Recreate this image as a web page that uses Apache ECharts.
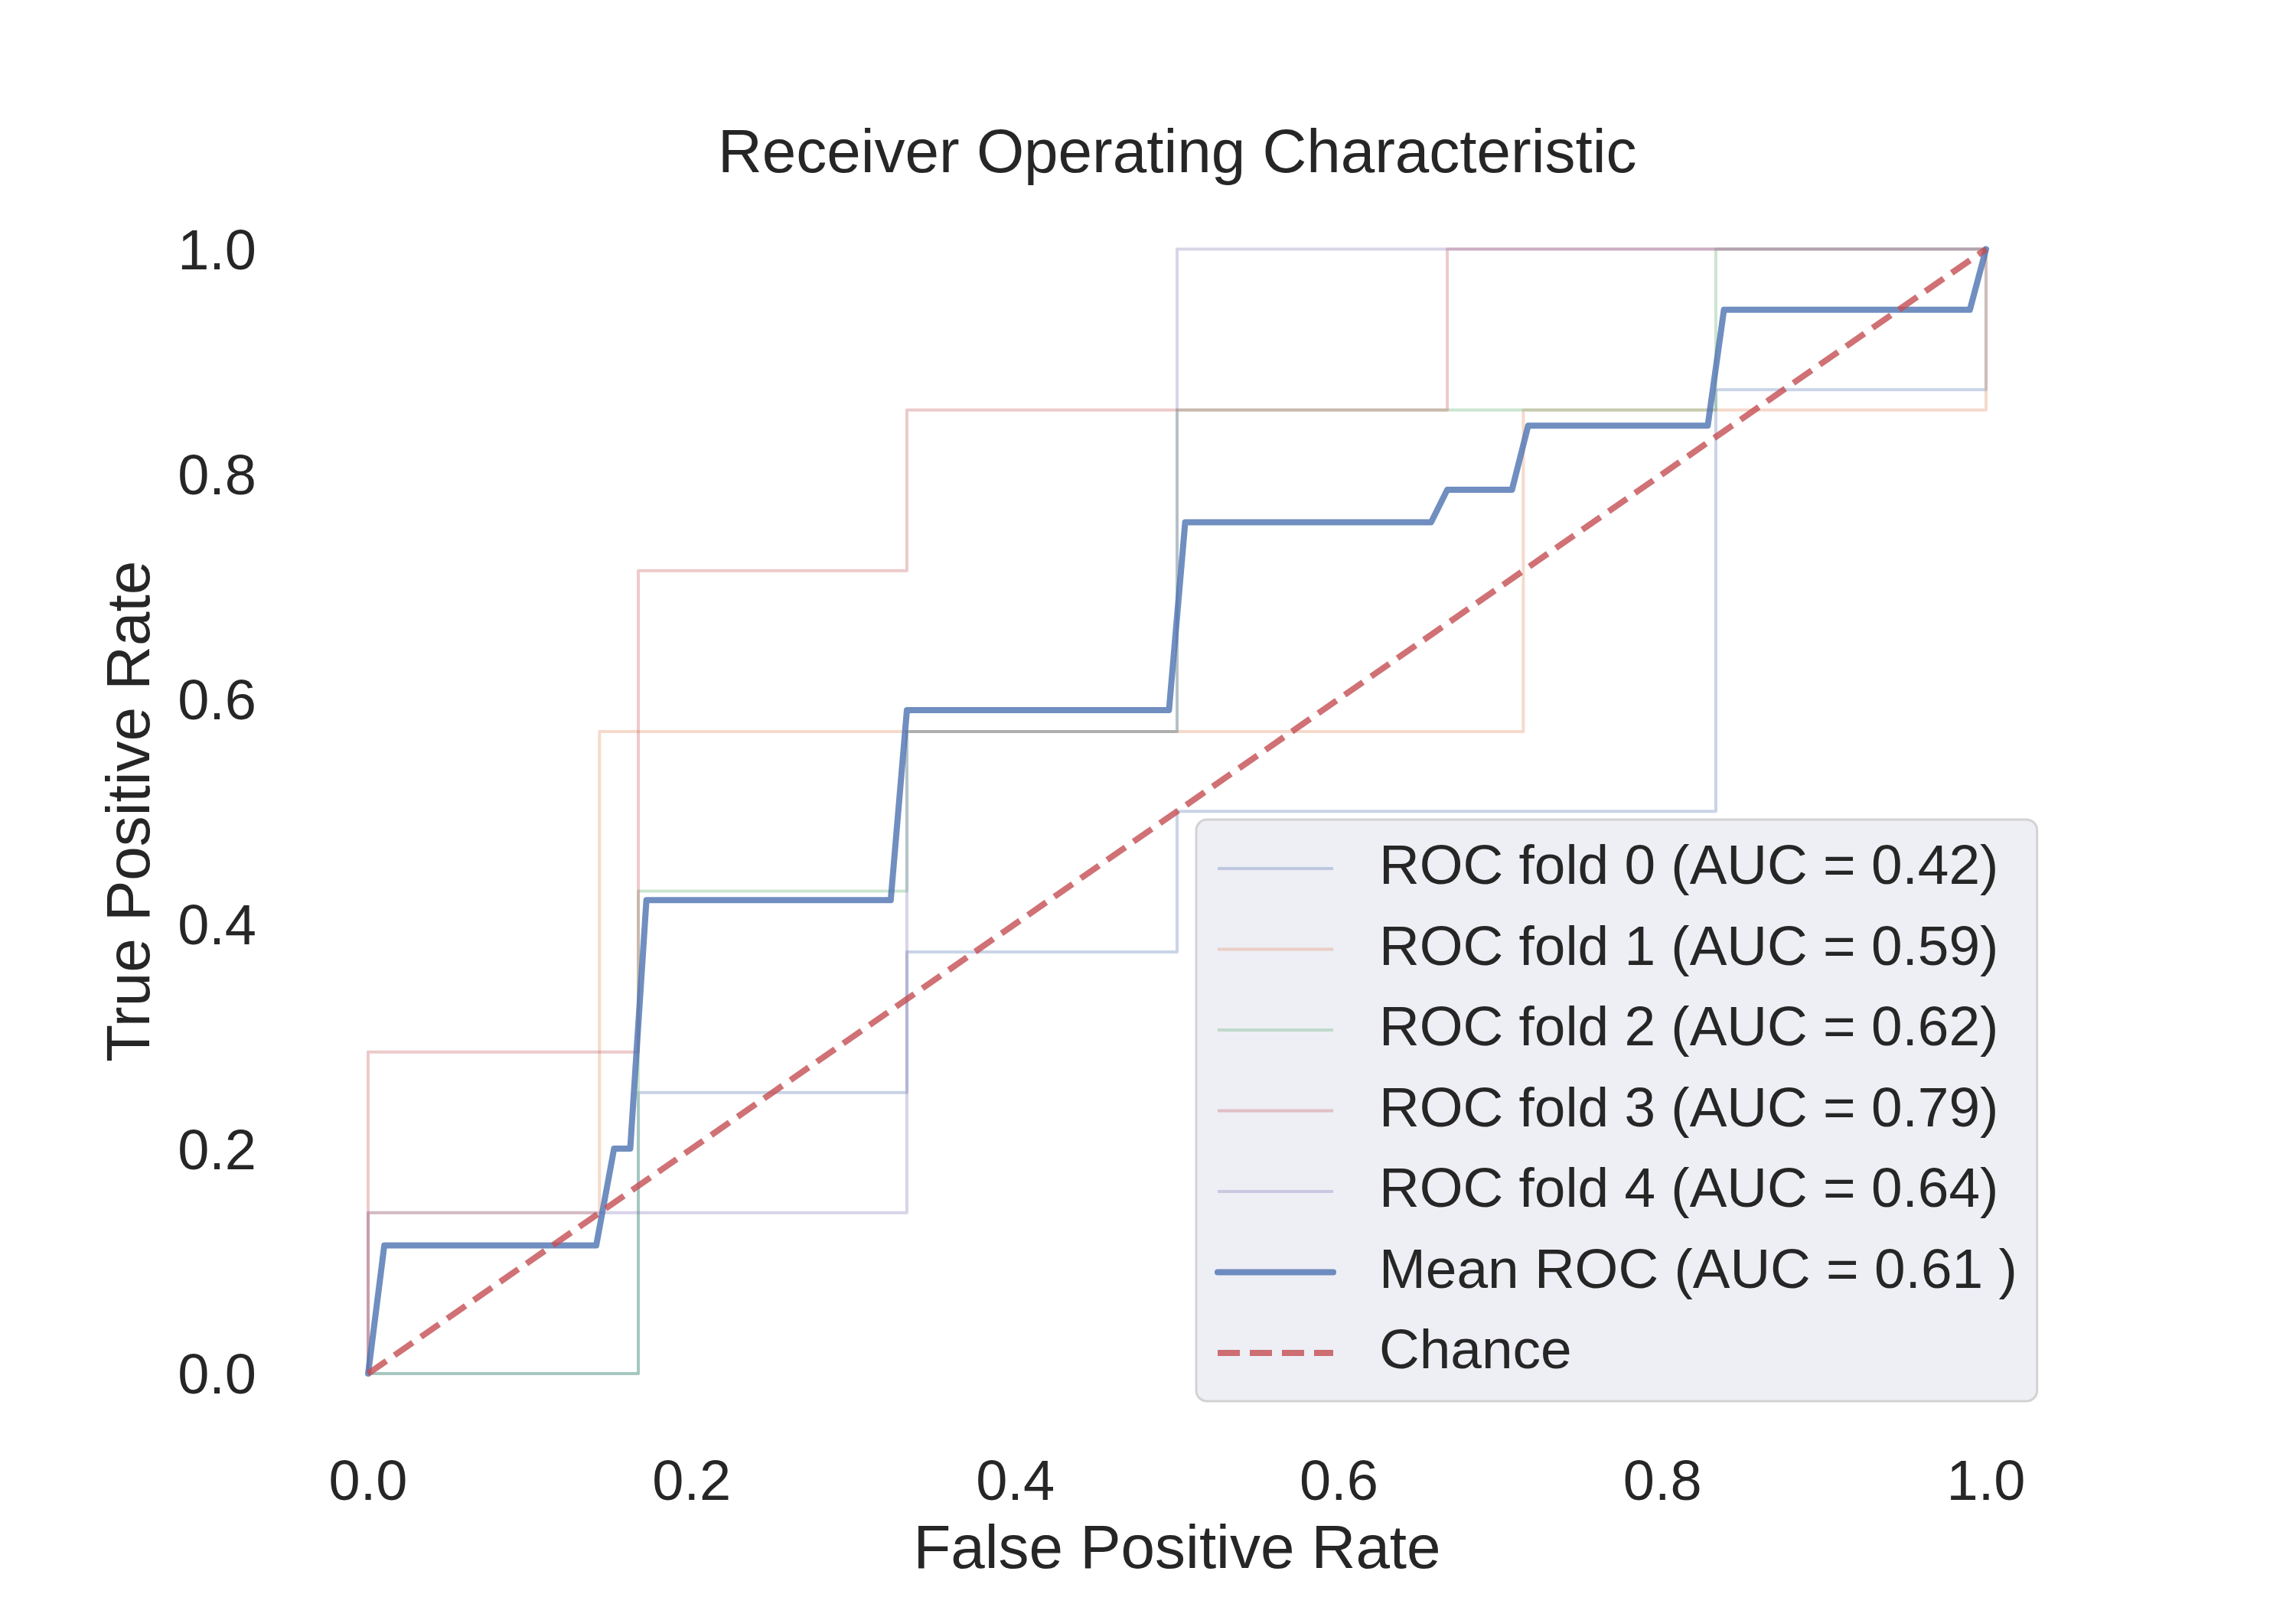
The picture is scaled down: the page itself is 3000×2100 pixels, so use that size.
<!DOCTYPE html>
<html>
<head>
<meta charset="utf-8">
<script src="https://cdn.jsdelivr.net/npm/echarts@6/dist/echarts.min.js"></script>
<style>
html,body{margin:0;padding:0;background:#fff;}
#chart{width:3000px;height:2100px;}
</style>
</head>
<body>
<div id="chart"></div>
<script>
// ---- data ----
const xTicks = [0.0, 0.2, 0.4, 0.6, 0.8, 1.0];
const yTicks = [0.0, 0.2, 0.4, 0.6, 0.8, 1.0];

const foldNames = [
  'ROC fold 0 (AUC = 0.42)',
  'ROC fold 1 (AUC = 0.59)',
  'ROC fold 2 (AUC = 0.62)',
  'ROC fold 3 (AUC = 0.79)',
  'ROC fold 4 (AUC = 0.64)'
];
const meanName = 'Mean ROC (AUC = 0.61 )';
const chanceName = 'Chance';

const fold0Fpr = [0, 0.167, 0.167, 0.333, 0.333, 0.5, 0.5, 0.833, 0.833, 1.0, 1.0];
const fold0Tpr = [0, 0, 0.25, 0.25, 0.375, 0.375, 0.5, 0.5, 0.875, 0.875, 1.0];

const fold1Fpr = [0, 0, 0.143, 0.143, 0.714, 0.714, 1.0, 1.0];
const fold1Tpr = [0, 0.143, 0.143, 0.571, 0.571, 0.857, 0.857, 1.0];

const fold2Fpr = [0, 0.167, 0.167, 0.333, 0.333, 0.5, 0.5, 0.833, 0.833, 1.0];
const fold2Tpr = [0, 0, 0.429, 0.429, 0.571, 0.571, 0.857, 0.857, 1.0, 1.0];

const fold3Fpr = [0, 0, 0.167, 0.167, 0.333, 0.333, 0.667, 0.667, 1.0];
const fold3Tpr = [0, 0.286, 0.286, 0.714, 0.714, 0.857, 0.857, 1.0, 1.0];

const fold4Fpr = [0, 0, 0.333, 0.333, 0.5, 0.5, 1.0];
const fold4Tpr = [0, 0.143, 0.143, 0.571, 0.571, 1.0, 1.0];

const meanFpr = [0, 0.010, 0.141, 0.152, 0.162, 0.172, 0.323, 0.333, 0.495, 0.505, 0.657, 0.667, 0.707, 0.717, 0.828, 0.838, 0.990, 1.0];
const meanTpr = [0, 0.114, 0.114, 0.200, 0.200, 0.421, 0.421, 0.590, 0.590, 0.757, 0.757, 0.786, 0.786, 0.843, 0.843, 0.946, 0.946, 1.0];

const chanceX = [0, 1];
const chanceY = [0, 1];

// ---- styling ----
const foldColors = ['#4C72B0', '#DD8452', '#55A868', '#C44E52', '#8172B3'];
const FONT = '"Liberation Sans", Arial, "DejaVu Sans", sans-serif';
const TXT = '#262626';

function pairs(xs, ys) { return xs.map((x, i) => [x, ys[i]]); }

const foldX = [fold0Fpr, fold1Fpr, fold2Fpr, fold3Fpr, fold4Fpr];
const foldY = [fold0Tpr, fold1Tpr, fold2Tpr, fold3Tpr, fold4Tpr];

const series = foldNames.map((name, i) => ({
  name: name,
  type: 'line',
  data: pairs(foldX[i], foldY[i]),
  symbol: 'none',
  clip: false,
  z: 2,
  lineStyle: { color: foldColors[i], width: 4, opacity: 0.3, join: 'round' },
  itemStyle: { color: foldColors[i], opacity: 0.3 }
}));

series.push({
  name: meanName,
  type: 'line',
  data: pairs(meanFpr, meanTpr),
  symbol: 'none',
  clip: false,
  z: 3,
  lineStyle: { color: '#4C72B0', width: 8, opacity: 0.8, join: 'round', cap: 'round' },
  itemStyle: { color: '#4C72B0', opacity: 0.8 }
});

series.push({
  name: chanceName,
  type: 'line',
  data: pairs(chanceX, chanceY),
  symbol: 'none',
  clip: false,
  z: 4,
  lineStyle: { color: '#C44E52', width: 8, opacity: 0.8, type: [29, 13], cap: 'butt' },
  itemStyle: { color: '#C44E52', opacity: 0.8 }
});

const chart = echarts.init(document.getElementById('chart'), null, { renderer: 'canvas' });
chart.setOption({
  animation: false,
  backgroundColor: '#ffffff',
  textStyle: { fontFamily: FONT, color: TXT },
  title: {
    text: 'Receiver Operating Characteristic',
    left: 933,
    top: 158,
    textStyle: { fontFamily: FONT, fontSize: 80, fontWeight: 'normal', color: TXT }
  },
  grid: { left: 481, right: 405, top: 325.5, bottom: 305, containLabel: false },
  xAxis: {
    type: 'value',
    min: 0, max: 1, interval: 0.2,
    name: 'False Positive Rate',
    nameLocation: 'middle',
    nameGap: 192,
    nameTextStyle: { fontFamily: FONT, fontSize: 80, color: TXT },
    axisLine: { show: false },
    axisTick: { show: false },
    splitLine: { show: false },
    axisLabel: {
      fontFamily: FONT, fontSize: 74, color: TXT, margin: 108,
      formatter: v => v.toFixed(1)
    }
  },
  yAxis: {
    type: 'value',
    min: 0, max: 1, interval: 0.2,
    name: 'True Positive Rate',
    nameLocation: 'middle',
    nameGap: 268,
    nameTextStyle: { fontFamily: FONT, fontSize: 80, color: TXT },
    axisLine: { show: false },
    axisTick: { show: false },
    splitLine: { show: false },
    axisLabel: {
      fontFamily: FONT, fontSize: 74, color: TXT, margin: 146,
      formatter: v => '{a|' + v.toFixed(1) + '}',
      rich: { a: { fontFamily: FONT, fontSize: 74, color: TXT, padding: [12, 0, 0, 0] } }
    }
  },
  legend: {
    orient: 'vertical',
    left: 1563,
    top: 1071,
    padding: [22, 26, 21, 24],
    itemWidth: 151,
    itemHeight: 20,
    itemGap: 21.5,
    backgroundColor: 'rgba(234,234,242,0.8)',
    borderColor: '#D3D3D3',
    borderWidth: 3,
    borderRadius: 14,
    itemStyle: { opacity: 0, borderWidth: 0 },
    lineStyle: { width: 'inherit', type: 'inherit', opacity: 'inherit' },
    textStyle: { fontFamily: FONT, fontSize: 73, lineHeight: 84, color: TXT, padding: [0, 0, 0, 55] },
    data: foldNames.concat([meanName, chanceName])
  },
  series: series
});
</script>
</body>
</html>
